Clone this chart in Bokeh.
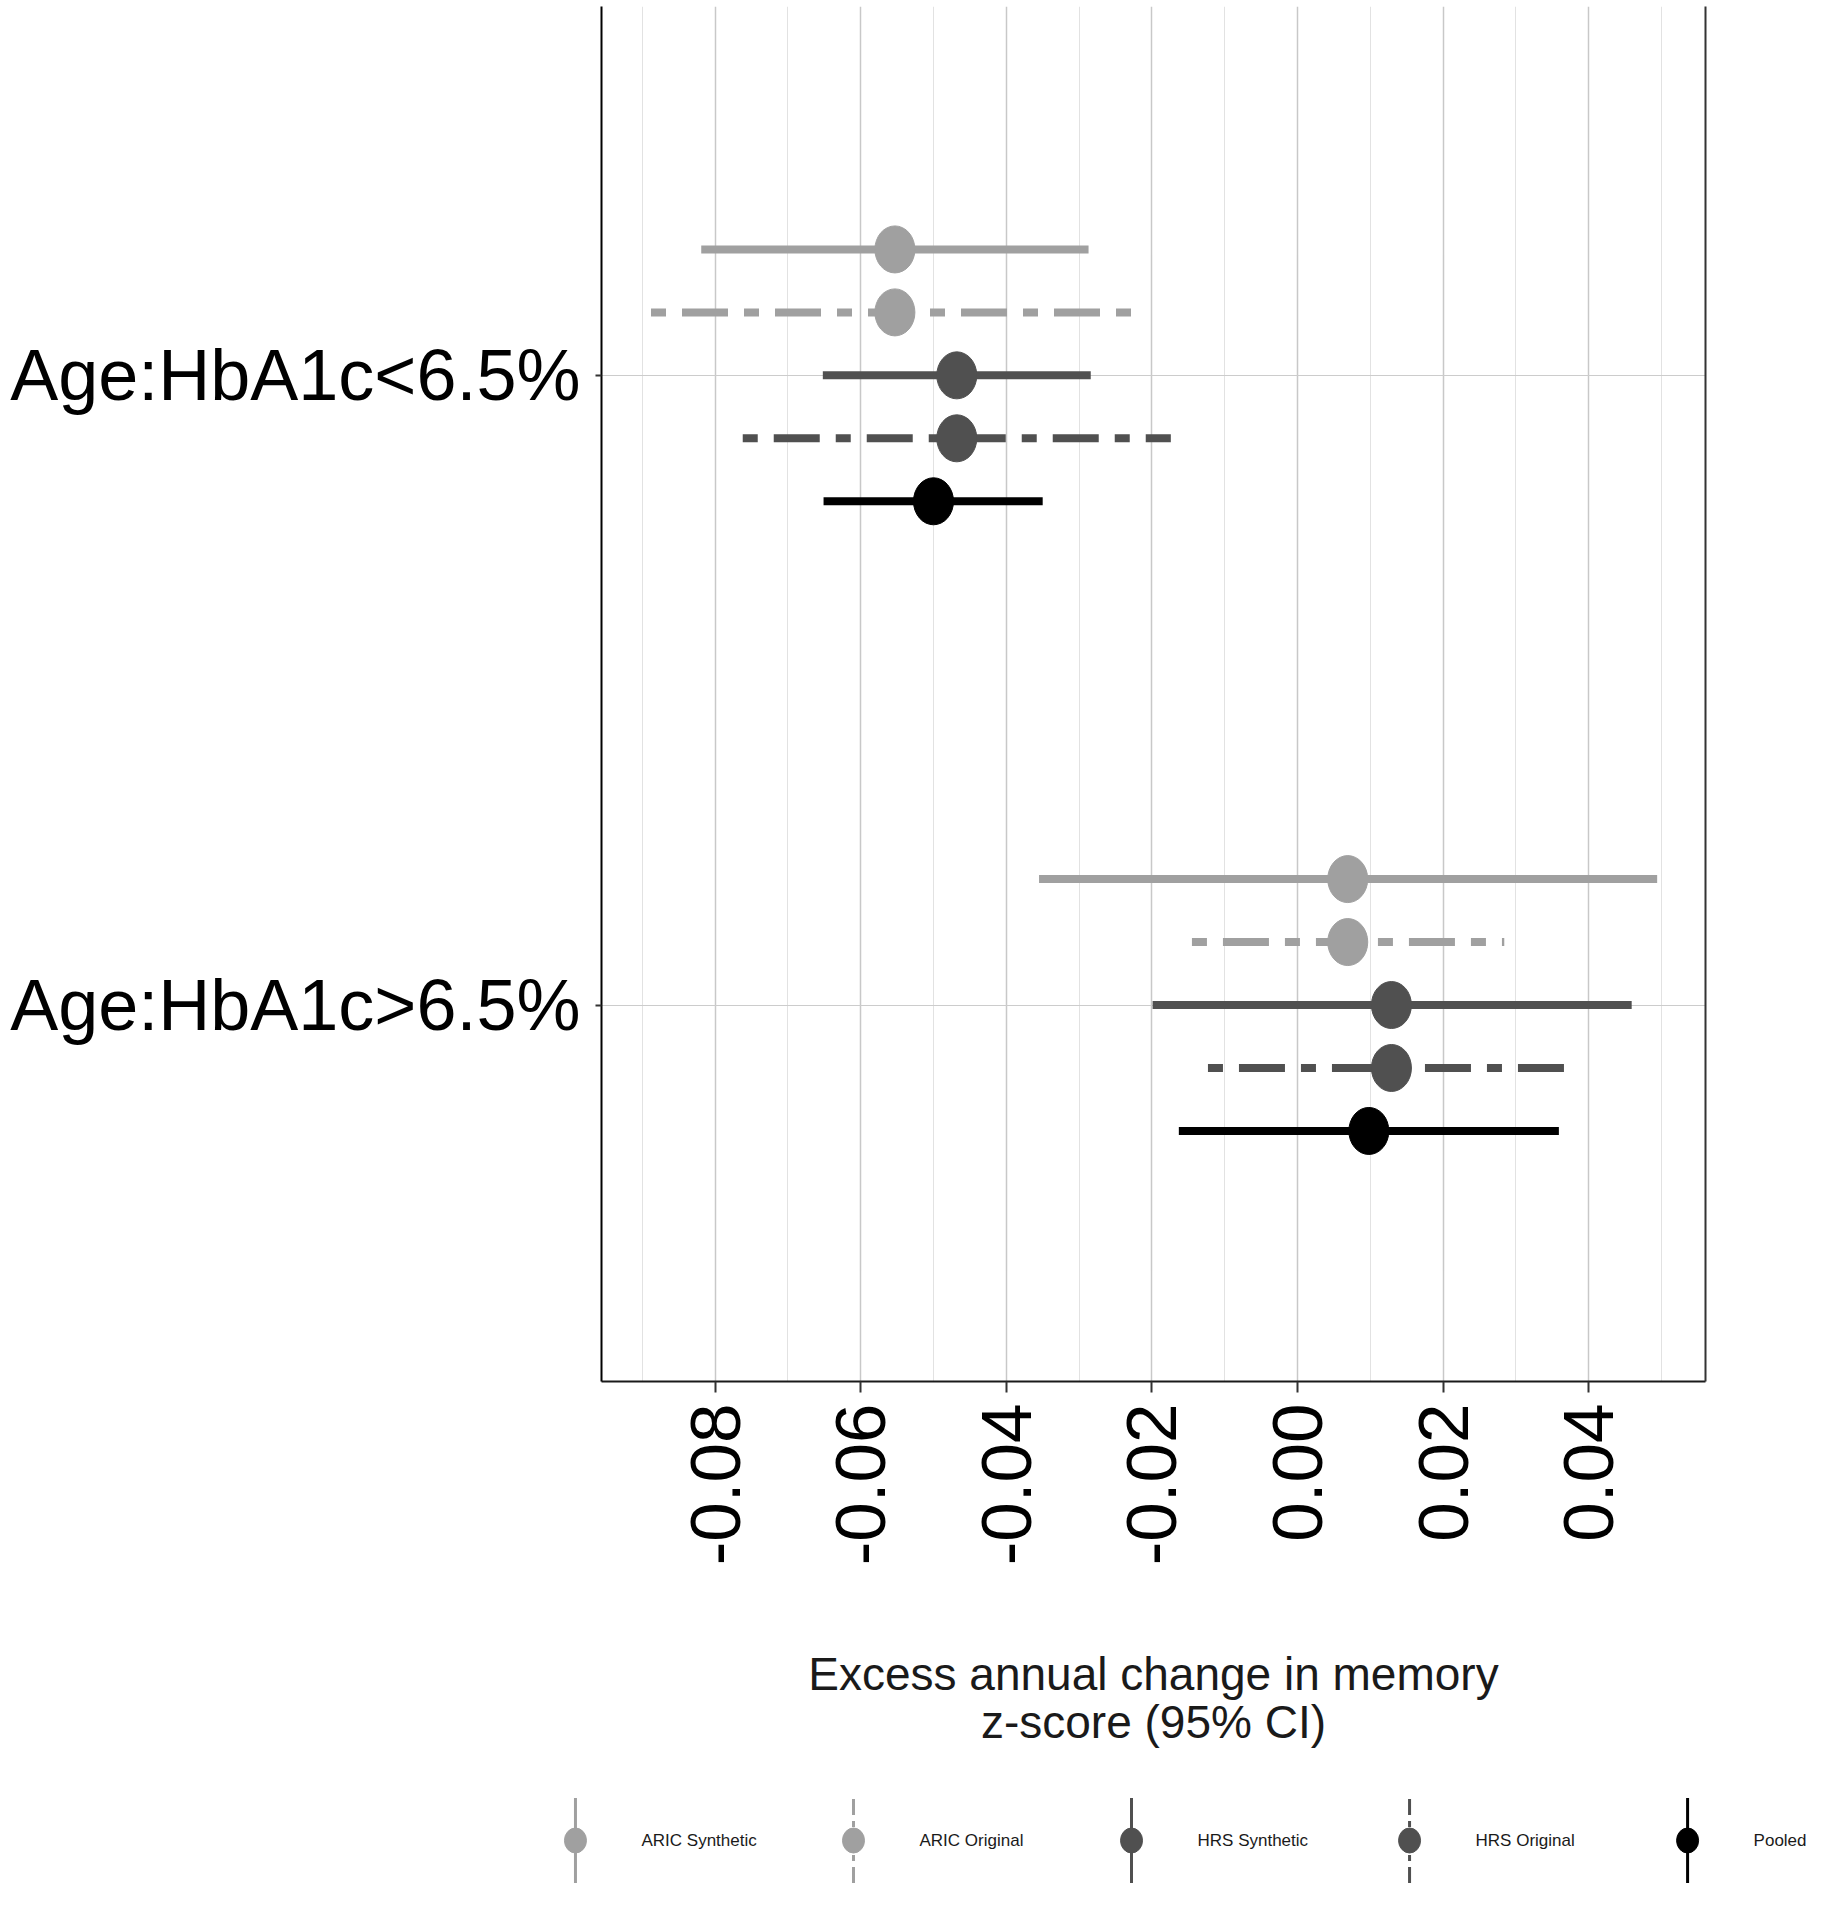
import numpy as np
from bokeh.plotting import figure
from bokeh.models import Range1d, FixedTicker, PrintfTickFormatter, LinearAxis
from bokeh.layouts import column
from bokeh.embed import file_html
from bokeh.resources import INLINE
from bokeh.core.properties import value

# ---------------- data ----------------
categories = ["Age:HbA1c<6.5%", "Age:HbA1c>6.5%"]
series = ["ARIC Synthetic", "ARIC Original", "HRS Synthetic", "HRS Original", "Pooled"]

# Age:HbA1c<6.5%
est_lt = [-0.0553, -0.0553, -0.0468, -0.0468, -0.0500]
lo_lt = [-0.0819, -0.0888, -0.0652, -0.0762, -0.0651]
hi_lt = [-0.0287, -0.0228, -0.0284, -0.0174, -0.0350]

# Age:HbA1c>6.5%
est_gt = [0.0069, 0.0069, 0.0129, 0.0129, 0.0098]
lo_gt = [-0.0355, -0.0145, -0.0199, -0.0123, -0.0163]
hi_gt = [0.0494, 0.0284, 0.0459, 0.0366, 0.0359]

x_ticks = [-0.08, -0.06, -0.04, -0.02, 0.00, 0.02, 0.04]
x_minor = [-0.09, -0.07, -0.05, -0.03, -0.01, 0.01, 0.03, 0.05]
x_title = "Excess annual change in memory\nz-score (95% CI)"

# ---------------- style ----------------
colors = ["#a0a0a0", "#a0a0a0", "#505050", "#505050", "#000000"]
dashes = ["solid", "15 16 46 16", "solid", "15 16 46 16", "solid"]
leg_dashes = ["solid", "16 6 6 6", "solid", "16 6 6 6", "solid"]
FONT = "Liberation Sans"

p = figure(frame_width=1104, frame_height=1375,
           x_range=Range1d(-0.0956, 0.05604), y_range=Range1d(0.4021, 2.5858),
           output_backend="svg", toolbar_location=None,
           min_border_left=601, min_border_right=130, min_border_top=6,
           min_border_bottom=379, outline_line_color=None,
           background_fill_color="white", border_fill_color="white")
p.frame_align = False

ncat = len(categories)
nser = len(series)
est = [est_lt, est_gt]
lo = [lo_lt, lo_gt]
hi = [hi_lt, hi_gt]

for j, name in enumerate(series):
    off = ((nser - 1) / 2 - j) * 0.1
    ys = [ncat - i + off for i in range(ncat)]
    xs = [est[i][j] for i in range(ncat)]
    x0 = [lo[i][j] for i in range(ncat)]
    x1 = [hi[i][j] for i in range(ncat)]
    p.segment(x0=x0, x1=x1, y0=ys, y1=ys, line_width=8,
              line_color=colors[j], line_dash=dashes[j])
    p.ellipse(x=xs, y=ys, width=40, height=47, width_units="screen",
              height_units="screen", fill_color=colors[j], line_color=colors[j])

# grids
p.xgrid.ticker = FixedTicker(ticks=x_ticks, minor_ticks=x_minor)
p.xgrid.grid_line_color = "#c8c8c8"
p.xgrid.grid_line_width = 1.5
p.xgrid.minor_grid_line_color = "#e2e2e2"
p.xgrid.minor_grid_line_width = 1
p.ygrid.ticker = FixedTicker(ticks=list(range(1, ncat + 1)))
p.ygrid.grid_line_color = "#cccccc"
p.ygrid.grid_line_width = 1

# x axis
xa = p.xaxis[0]
xa.ticker = FixedTicker(ticks=x_ticks, minor_ticks=x_minor)
xa.formatter = PrintfTickFormatter(format="%.2f")
xa.major_label_orientation = np.pi / 2
xa.major_label_text_font = FONT
xa.major_label_text_font_size = "71px"
xa.major_label_text_color = "black"
xa.major_label_standoff = 11
xa.major_tick_out = 11
xa.major_tick_in = 0
xa.minor_tick_out = 0
xa.minor_tick_in = 0
xa.major_tick_line_color = "#333333"
xa.major_tick_line_width = 2
xa.axis_line_color = "#1a1a1a"
xa.axis_line_width = 2
xa.axis_label = x_title
xa.axis_label_text_font = FONT
xa.axis_label_text_font_size = "46px"
xa.axis_label_text_font_style = "normal"
xa.axis_label_text_color = "#1a1a1a"
xa.axis_label_text_line_height = 0.92
xa.axis_label_standoff = 80

# y axis
ya = p.yaxis[0]
ya.ticker = FixedTicker(ticks=list(range(1, ncat + 1)))
ya.major_label_overrides = {ncat - i: categories[i] for i in range(ncat)}
ya.major_label_text_font = FONT
ya.major_label_text_font_size = "72px"
ya.major_label_text_color = "black"
ya.major_label_standoff = 15
ya.major_tick_out = 6
ya.major_tick_in = 0
ya.minor_tick_out = 0
ya.minor_tick_in = 0
ya.major_tick_line_color = "#333333"
ya.major_tick_line_width = 2
ya.axis_line_color = "black"
ya.axis_line_width = 2

# right border line
ra = LinearAxis(ticker=FixedTicker(ticks=[]), major_tick_line_color=None,
                minor_tick_line_color=None, axis_line_color="#333333",
                axis_line_width=2)
p.add_layout(ra, "right")

# ---------------- legend ----------------
leg = figure(width=1835, height=160, x_range=Range1d(-2.068, 4.532),
             y_range=Range1d(0, 1), output_backend="svg", toolbar_location=None,
             x_axis_type=None, y_axis_type=None, min_border=0,
             outline_line_color=None)
leg.frame_align = False
leg.grid.visible = False
idx = list(range(nser))
mid = [0.5] * nser
for j in idx:
    leg.scatter(x=[idx[j]], y=[mid[j]], marker="dash", size=85, angle=np.pi / 2,
                line_width=3, line_color=colors[j], line_dash=leg_dashes[j])
    leg.ellipse(x=[idx[j]], y=[mid[j]], width=22, height=25, width_units="screen",
                height_units="screen", fill_color=colors[j], line_color=colors[j])
leg.text(x=idx, y=mid, text=series, x_offset=66, text_align="left",
         text_baseline="middle", text_font=value(FONT), text_font_size="17px",
         text_color="#1a1a1a")

layout = column(p, leg)
open("out.html", "w").write(file_html(layout, INLINE))
